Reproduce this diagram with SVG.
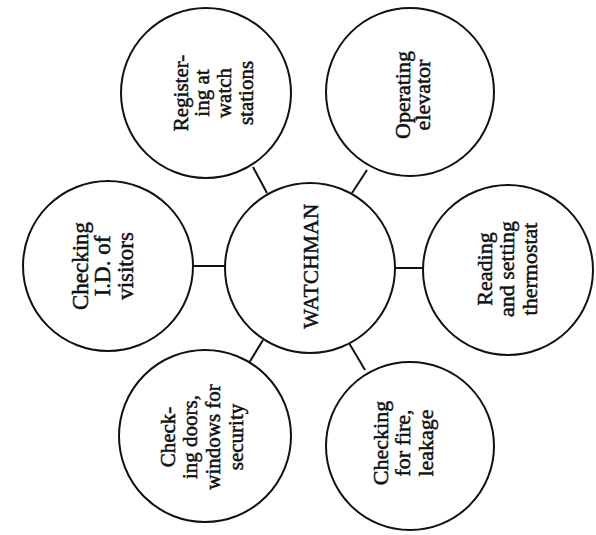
<svg xmlns="http://www.w3.org/2000/svg" width="596" height="535" viewBox="0 0 596 535">
<style>
.c{fill:#fff;stroke:#111;stroke-width:2}
.l{stroke:#111;stroke-width:2;fill:none}
text{font-family:"Liberation Serif","Times New Roman",serif;font-size:21px;fill:#111;stroke:#111;stroke-width:0.5;text-anchor:middle}
</style>
<rect width="596" height="535" fill="#fff"/>
<g id="connectors">
<line class="l" x1="253" y1="167" x2="267" y2="193"/>
<line class="l" x1="367" y1="170" x2="352" y2="193"/>
<line class="l" x1="193" y1="266" x2="225" y2="266"/>
<line class="l" x1="395" y1="268" x2="424" y2="268"/>
<line class="l" x1="263" y1="340" x2="249" y2="363"/>
<line class="l" x1="349" y1="343" x2="365" y2="370"/>
</g>
<g id="watchman">
<circle class="c" cx="310" cy="268" r="85"/>
<text transform="translate(0,266) rotate(-90)" style="font-size:21px;letter-spacing:0.5px"><tspan x="0" y="318">WATCHMAN</tspan></text>
</g>
<g id="registering">
<circle class="c" cx="206" cy="93" r="85"/>
<text transform="translate(0,93) rotate(-90)"><tspan x="0" y="188">Register-</tspan><tspan x="0" y="209">ing at</tspan><tspan x="0" y="231">watch</tspan><tspan x="0" y="253">stations</tspan></text>
</g>
<g id="operating">
<circle class="c" cx="410" cy="92" r="84"/>
<text transform="translate(0,95) rotate(-90)" style="font-size:22px"><tspan x="0" y="410">Operating</tspan><tspan x="0" y="430">elevator</tspan></text>
</g>
<g id="checking-id">
<circle class="c" cx="108" cy="266" r="85"/>
<text transform="translate(0,266) rotate(-90)" style="font-size:23px"><tspan x="0" y="88">Checking</tspan><tspan x="0" y="110">I.D. of</tspan><tspan x="0" y="133">visitors</tspan></text>
</g>
<g id="reading">
<circle class="c" cx="508" cy="270" r="85"/>
<text transform="translate(0,269) rotate(-90)" style="font-size:22px"><tspan x="0" y="492">Reading</tspan><tspan x="0" y="514">and setting</tspan><tspan x="0" y="537">thermostat</tspan></text>
</g>
<g id="checking-doors">
<circle class="c" cx="205" cy="436" r="86"/>
<text transform="translate(0,437) rotate(-90)"><tspan x="0" y="175">Check-</tspan><tspan x="0" y="197">ing doors,</tspan><tspan x="0" y="220">windows for</tspan><tspan x="0" y="243">security</tspan></text>
</g>
<g id="checking-fire">
<circle class="c" cx="410" cy="446" r="84"/>
<text transform="translate(0,443) rotate(-90)" style="font-size:22px"><tspan x="0" y="388">Checking</tspan><tspan x="0" y="410">for fire,</tspan><tspan x="0" y="433">leakage</tspan></text>
</g>
</svg>
